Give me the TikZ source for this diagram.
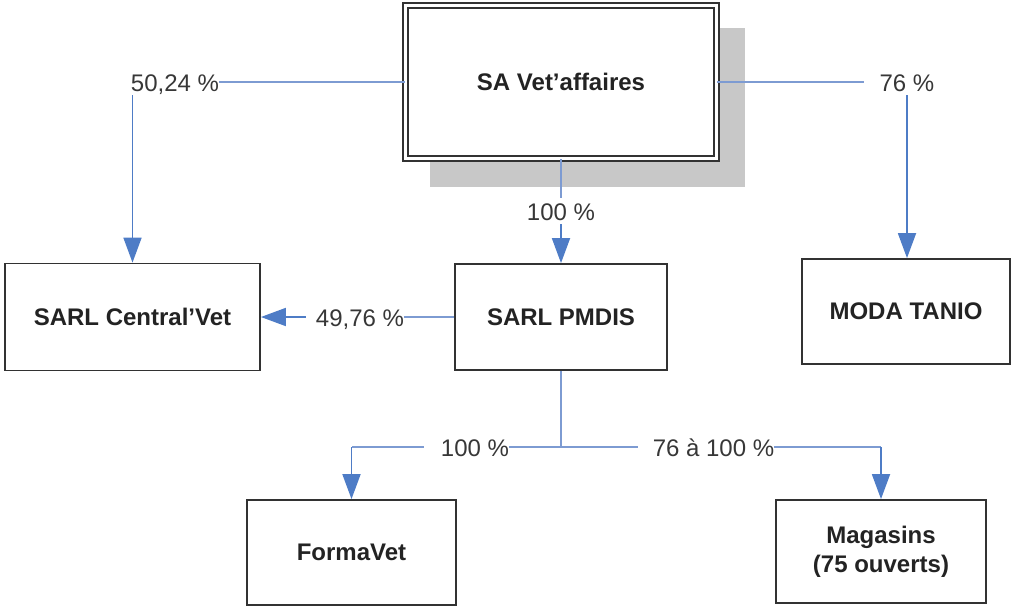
\documentclass[tikz,border=0pt]{standalone}
\usepackage{fontspec}
\setmainfont{Liberation Sans}
\usetikzlibrary{arrows.meta}
\definecolor{boxline}{RGB}{50,50,50}
\definecolor{boxtext}{RGB}{35,35,35}
\definecolor{labtext}{RGB}{55,55,55}
\definecolor{shadowgray}{RGB}{200,200,200}
\definecolor{hline}{RGB}{125,155,210}
\definecolor{varrow}{RGB}{78,124,198}
\tikzset{
  orgbox/.style={draw=boxline, line width=1.8pt, fill=white, rectangle,
    inner sep=2pt, align=center, text=boxtext,
    font=\fontsize{24}{29}\selectfont\bfseries},
  lab/.style={inner xsep=0pt, inner ysep=4pt, text height=18pt, text depth=0pt,
    text=labtext, font=\fontsize{24}{29}\selectfont},
  ln/.style={draw=hline, line width=1.6pt},
  arr/.style={draw=varrow, line width=1.8pt,
    -{Triangle[length=25pt, width=18pt]}},
}
\begin{document}
\begin{tikzpicture}[x=1pt, y=-1pt]
\useasboundingbox (0,0) rectangle (1013,608);
% shadow of the top box
\fill[shadowgray] (430,28) rectangle (745,187);
% boxes
\node[orgbox, double=white, double distance=2.5pt,
      minimum width=311pt, minimum height=153pt] (sa) at (561,82) {SA Vet’affaires};
\node[orgbox, minimum width=255pt, minimum height=107pt] (cv) at (132.5,317) {SARL Central’Vet};
\node[orgbox, minimum width=212pt, minimum height=106pt] (pm) at (561,317) {SARL PMDIS};
\node[orgbox, minimum width=208pt, minimum height=105pt] (mt) at (906,311.5) {MODA TANIO};
\node[orgbox, minimum width=209pt, minimum height=105pt] (fv) at (351.5,552.5) {FormaVet};
\node[orgbox, minimum width=210pt, minimum height=103pt] (mg) at (881,551.5) {Magasins\\(75 ouverts)};
% labels
\node[lab] (l5024) at (175,82) {50,24 \%};
\node[lab] (l76) at (907,82) {76 \%};
\node[lab] (l100) at (561,211) {100 \%};
\node[lab] (l4976) at (360,317) {49,76 \%};
\node[lab] (l100b) at (475,447) {100 \%};
\node[lab] (l76b) at (713.5,447) {76 à 100 \%};
\coordinate (j) at (pm.south |- l100b);
\coordinate (cfv) at (fv.north |- l100b);
\coordinate (cmg) at (mg.north |- l76b);
% connectors
\draw[ln] (sa.west) -- (l5024.east);
\draw[arr] (l5024.south -| cv.north) -- (cv.north);
\draw[ln] (sa.east) -- ([xshift=-15pt]l76.west);
\draw[arr] (l76.south) -- (l76.south |- mt.north);
\draw[ln] (sa.south) -- (l100.north);
\draw[arr] (l100.south) -- (pm.north);
\draw[ln] (pm.west) -- (l4976.east);
\draw[arr] ([xshift=-10pt]l4976.west) -- (cv.east);
\draw[ln] (pm.south) -- (j);
\draw[ln] (j) -- (l100b.east);
\draw[ln] ([xshift=-17pt]l100b.west) -- (cfv);
\draw[arr] (cfv) -- (fv.north);
\draw[ln] (j) -- ([xshift=-15pt]l76b.west);
\draw[ln] (l76b.east) -- (cmg);
\draw[arr] (cmg) -- (mg.north);
\end{tikzpicture}
\end{document}
